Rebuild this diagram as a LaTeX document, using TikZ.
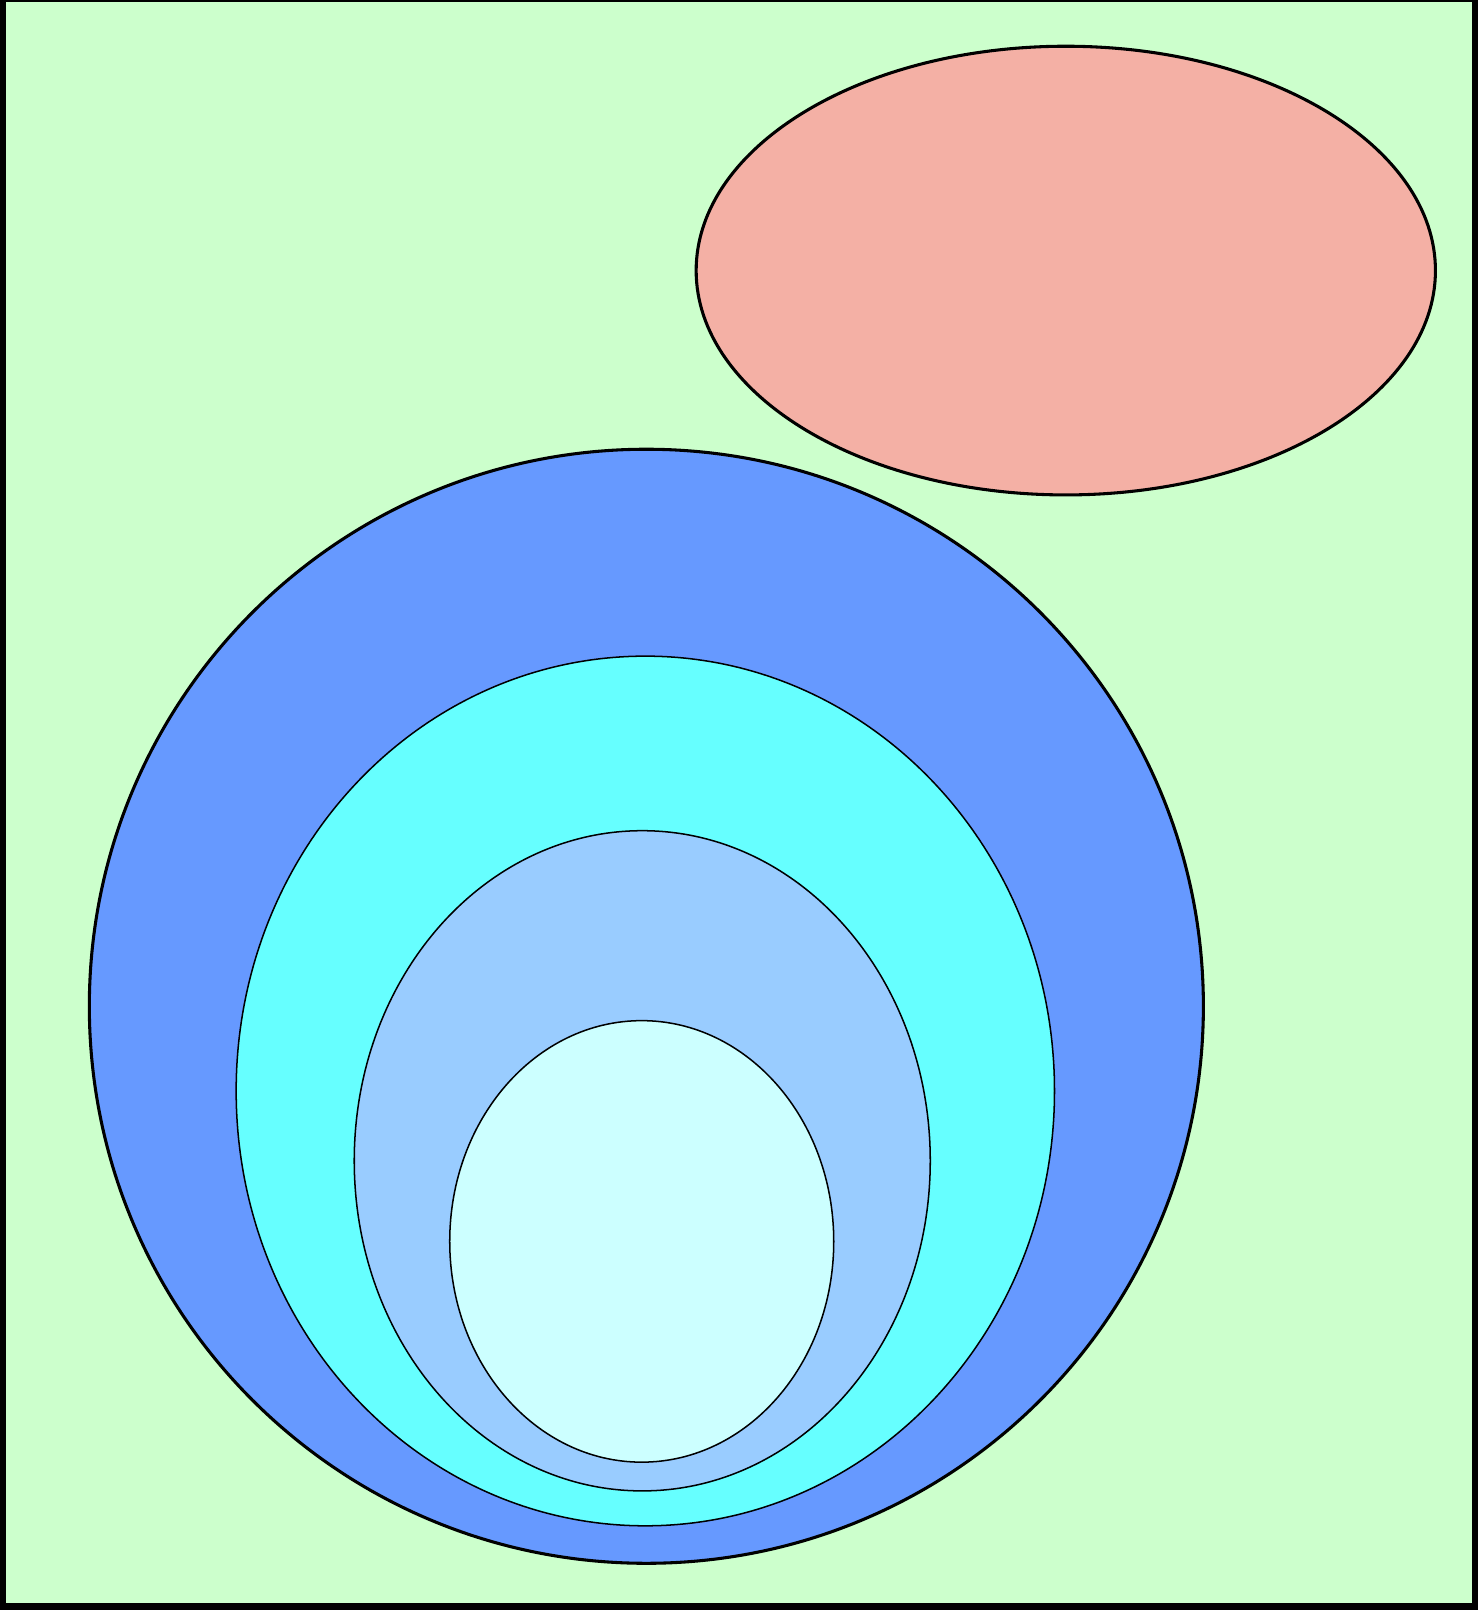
\documentclass[tikz,border=0pt]{standalone}
\definecolor{bgc}{HTML}{CCFFCC}
\definecolor{pinkc}{HTML}{F4B0A5}
\definecolor{bluec}{HTML}{6699FF}
\definecolor{cyanc}{HTML}{66FFFF}
\definecolor{lbluec}{HTML}{99CCFF}
\definecolor{palec}{HTML}{CCFFFF}
\begin{document}
\begin{tikzpicture}[x=0.01cm,y=-0.01cm,
  thickshape/.style={draw=black,line width=0.85pt},
  thinshape/.style={draw=black,line width=0.42pt}]
\useasboundingbox (0,0) rectangle (1439,1568);
\fill[black] (0,0) rectangle (1439,1568);
\fill[bgc] (5.8,1.5) rectangle (1433.2,1560.8);
\filldraw[thickshape,fill=pinkc] (1038,263.5) ellipse [x radius=360, y radius=218.5];
\filldraw[thickshape,fill=bluec] (629.5,980) circle [radius=542.5];
\filldraw[thinshape,fill=cyanc] (628.5,1062.5) ellipse [x radius=398.5, y radius=423.5];
\filldraw[thinshape,fill=lbluec] (625.5,1130.5) ellipse [x radius=280.5, y radius=321.5];
\filldraw[thinshape,fill=palec] (625,1209) ellipse [x radius=187, y radius=215];
\end{tikzpicture}
\end{document}
